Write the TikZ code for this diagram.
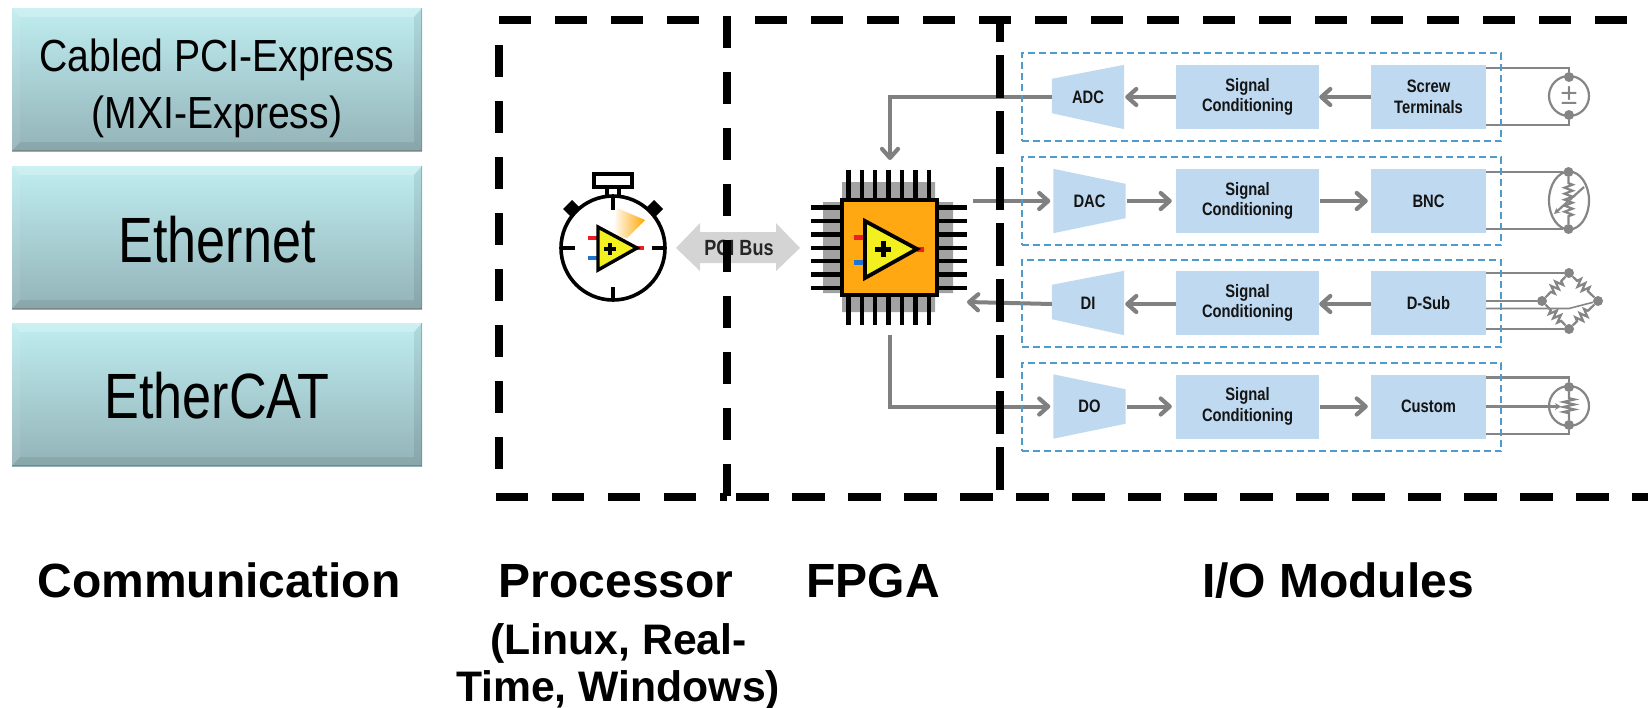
\documentclass[tikz,border=0pt]{standalone}
\usepackage{fontspec}
\setmainfont{Liberation Sans}
\newfontfamily\panelA[FakeStretch=0.87]{Liberation Sans}
\newfontfamily\panelB[FakeStretch=0.815]{Liberation Sans}
\newfontfamily\narrowf[FakeStretch=0.82]{Liberation Sans}
\usetikzlibrary{arrows.meta,backgrounds,decorations.pathmorphing,shapes.geometric}
\definecolor{cg}{HTML}{808080}
\definecolor{wg}{HTML}{858585}
\definecolor{blockblue}{HTML}{BFDAF0}
\definecolor{dashblue}{HTML}{4F9BCB}
\definecolor{chiporange}{HTML}{FFA812}
\definecolor{opyellow}{HTML}{F2F01E}
\definecolor{pinred}{HTML}{EE1C25}
\definecolor{pinblue}{HTML}{1F74D0}
\definecolor{padgray}{HTML}{A2A2A2}
\definecolor{pcigray}{HTML}{D4D4D4}
\definecolor{paneltop}{HTML}{BFEDF0}
\definecolor{panelbot}{HTML}{93B3B8}
\tikzset{
  blk/.style={fill=blockblue,minimum width=143pt,minimum height=64pt,inner sep=0pt,align=center,text=black!92,font=\narrowf\bfseries\fontsize{18}{20.5}\selectfont},
  blks/.style={blk,minimum width=115pt},
  tz/.style={minimum width=72pt,minimum height=64pt,inner sep=0pt,text=black!92,font=\narrowf\bfseries\fontsize{18}{20.5}\selectfont},
  grp/.style={draw=dashblue,line width=2pt,dash pattern=on 7pt off 4pt,minimum width=479.5pt,inner sep=0pt},
  conn/.style={draw=cg,line width=4pt},
  tip/.style={-{Straight Barb[length=9pt,width=16pt,line width=4.2pt,round]}},
  wire/.style={draw=wg,line width=2.2pt},
  dotn/.style={circle,fill=wg,minimum size=10pt,inner sep=0pt},
  frame/.style={draw=black,line width=8pt},
  lbl/.style={font=\bfseries\fontsize{48}{50}\selectfont,anchor=base},
  lbls/.style={font=\bfseries\fontsize{42.7}{46}\selectfont,anchor=base},
  zz/.style={wire,decorate,decoration={zigzag,segment length=6pt,amplitude=4pt,pre length=6pt,post length=6pt}},
}
\newcommand{\panelshape}[1]{%
 \begin{scope}[shift={(12,#1)}]
  \shade[top color=paneltop,bottom color=panelbot] (0,0) rectangle (410,143);
  \fill[white,opacity=.22] (0,0) -- (410,0) -- (402,9) -- (8,9) -- cycle;
  \fill[white,opacity=.08] (0,0) -- (8,9) -- (8,134) -- (0,143) -- cycle;
  \fill[black,opacity=.08] (410,0) -- (402,9) -- (402,134) -- (410,143) -- cycle;
  \fill[black,opacity=.07] (0,143) -- (8,134) -- (402,134) -- (410,143) -- cycle;
  \draw[black!55,opacity=.6,line width=1.4pt] (0,142.5) -- (410,142.5);
  \draw[black!55,opacity=.4,line width=1.2pt] (409.5,0) -- (409.5,143);
 \end{scope}}
\begin{document}
\begin{tikzpicture}[x=1pt,y=-1pt]
\useasboundingbox (0,0) rectangle (1648,707);
% communication panels
\panelshape{8}
\panelshape{166}
\panelshape{323}
\node[align=center,font=\panelA\fontsize{45}{57}\selectfont,inner sep=0pt] (pcie) at (217,88) {Cabled PCI-Express\\(MXI-Express)};
\node[anchor=base,font=\panelB\fontsize{64}{66}\selectfont,inner sep=0pt] (eth) at (217,262) {Ethernet};
\node[anchor=base,font=\panelB\fontsize{64}{66}\selectfont,inner sep=0pt] (ecat) at (217,418) {EtherCAT};
% bottom labels
\node[lbl] (lcomm) at (219,597) {Communication};
\node[lbl] (lproc) at (616,597) {Processor};
\node[lbl] (lfpga) at (873,597) {FPGA};
\node[lbl] (lio) at (1338,597) {I/O Modules};
\node[lbls] (lsub1) at (618.5,654) {(Linux, Real-};
\node[lbls] (lsub2) at (618,701) {Time, Windows)};
% stopwatch
\fill[black] (572,200) -- (581,209) -- (572,218) -- (563,209) -- cycle;
\fill[black] (654,200) -- (663,209) -- (654,218) -- (645,209) -- cycle;
\draw[black,line width=3.4pt] (607,197) -- (607,187) (619,197) -- (619,187);
\draw[black,line width=3.6pt] (594,174) rectangle (632,187);
\node[circle,draw=black,fill=white,line width=3.6pt,minimum size=104pt,inner sep=0pt] (watch) at (613,248) {};
\draw[black,line width=3.2pt] (613,197) -- (613,210) (613,287) -- (613,300) (561,248) -- (575,248) (652,248) -- (665,248);
\shade[left color=white,right color=orange!70!yellow] (617,208) -- (645,220) -- (627,238) to[bend left=15] (613,233) -- cycle;
\fill[pinred] (588,236) rectangle (598,240);
\fill[pinblue] (588,256) rectangle (598,260);
\fill[pinred] (637,246) rectangle (644,250);
\draw[black,fill=opyellow,line width=3.4pt,line join=miter] (598,227) -- (598,270) -- (637,248) -- cycle;
\draw[black,line width=4pt] (604,249) -- (616,249) (610,243) -- (610,255);
% pci arrow
\fill[pcigray] (676,248) -- (700,223) -- (700,232) -- (776,232) -- (776,223) -- (800,248) -- (776,271) -- (776,263) -- (700,263) -- (700,271) -- cycle;
\node[inner sep=0pt,text=black!85,font=\narrowf\bfseries\fontsize{22}{24}\selectfont] (pci) at (739,248) {PCI Bus};
% fpga chip
\fill[padgray] (842,182) rectangle (935,198) (842,297) rectangle (935,312) (823,202) rectangle (840,293) (938,202) rectangle (953,293);
\foreach \p in {848.3,861.7,875,888.5,902,915.3,928.7}{
  \draw[black,line width=4.4pt] (\p,170) -- (\p,325);
}
\foreach \p in {207.3,220.7,234.3,247.7,261,274.5,288}{
  \draw[black,line width=4.4pt] (811,\p) -- (967,\p);
}
\node[draw=black,fill=chiporange,line width=4pt,minimum size=95pt,inner sep=0pt] (chip) at (889,247.5) {};
\fill[pinred] (854,235) rectangle (865,239.5);
\fill[pinblue] (854,260) rectangle (865,264.5);
\fill[pinred] (917,247) rectangle (924,251.5);
\draw[black,fill=opyellow,line width=3.8pt,line join=miter] (865,221) -- (865,278) -- (917,249) -- cycle;
\draw[black,line width=5pt] (875,249) -- (891,249) (883,241) -- (883,257);
% row 1
\node[tz] (adc) at (1088,97) {ADC};
\node[blk] (sig1) at (1247.5,97) {Signal\\Conditioning};
\node[blks] (scr) at (1428.5,97) {Screw\\Terminals};
% row 2
\node[tz] (dac) at (1089.5,201) {DAC};
\node[blk] (sig2) at (1247.5,201) {Signal\\Conditioning};
\node[blks] (bnc) at (1428.5,201) {BNC};
% row 3
\node[tz] (di) at (1088,303) {DI};
\node[blk] (sig3) at (1247.5,303) {Signal\\Conditioning};
\node[blks] (dsub) at (1428.5,303) {D-Sub};
% row 4
\node[tz] (do) at (1089.5,406.5) {DO};
\node[blk] (sig4) at (1247.5,406.5) {Signal\\Conditioning};
\node[blks] (cust) at (1428.5,406.5) {Custom};
\begin{pgfonlayer}{background}
 \fill[blockblue] (adc.north east) -- (adc.south east) -- ([yshift=16pt]adc.south west) -- ([yshift=-14pt]adc.north west) -- cycle;
 \fill[blockblue] (di.north east) -- (di.south east) -- ([yshift=16pt]di.south west) -- ([yshift=-14pt]di.north west) -- cycle;
 \fill[blockblue] (dac.north west) -- (dac.south west) -- ([yshift=15pt]dac.south east) -- ([yshift=-15pt]dac.north east) -- cycle;
 \fill[blockblue] (do.north west) -- (do.south west) -- ([yshift=15pt]do.south east) -- ([yshift=-15pt]do.north east) -- cycle;
\end{pgfonlayer}
% connectors
\coordinate (cin) at (890,160);
\coordinate (cdac) at (973,201);
\coordinate (cdi) at (967,302);
\coordinate (cout) at (890,335);
\draw[conn,tip] (adc.west) -| (cin);
\draw[conn,tip,shorten >=3pt] (cdac) -- (dac.west);
\draw[conn,tip] ([yshift=-1pt]di.west) -- (cdi);
\draw[conn,tip,shorten >=3pt] (cout) |- (do.west);
\draw[conn,tip] (scr.west) -- (sig1.east);
\draw[conn,tip] (sig1.west) -- ([xshift=1pt]adc.east);
\draw[conn,tip,shorten <=1pt,shorten >=4pt] (dac.east) -- (sig2.west);
\draw[conn,tip,shorten <=1pt,shorten >=3pt] (sig2.east) -- (bnc.west);
\draw[conn,tip] ([yshift=-1pt]dsub.west) -- ([yshift=-1pt]sig3.east);
\draw[conn,tip] ([yshift=-1pt]sig3.west) -- ([xshift=1pt,yshift=-1pt]di.east);
\draw[conn,tip,shorten <=1pt,shorten >=4pt] (do.east) -- (sig4.west);
\draw[conn,tip,shorten <=1pt,shorten >=3pt] (sig4.east) -- (cust.west);
% sensor 1
\node[circle,draw=wg,line width=2.2pt,minimum size=40pt,inner sep=0pt] (s1) at (1569,96) {};
\node[dotn] (s1t) at (1569,77) {};
\node[dotn] (s1b) at (1569,115) {};
\draw[wire] ([yshift=29pt]scr.east) -| (s1t);
\draw[wire] ([yshift=-28pt]scr.east) -| (s1b);
\node[inner sep=0pt,text=wg,font=\fontsize{30}{30}\selectfont] (s1p) at (1569,96) {±};
% sensor 2
\node[ellipse,draw=wg,line width=2.2pt,minimum width=40pt,minimum height=58pt,inner sep=0pt] (s2) at (1569,200.5) {};
\node[dotn] (s2t) at (1568.5,172) {};
\node[dotn] (s2b) at (1568.5,229) {};
\draw[wire] ([yshift=29pt]bnc.east) -- (s2t);
\draw[wire] ([yshift=-28pt]bnc.east) -- (s2b);
\draw[zz] (s2t) -- (s2b);
\coordinate (s2a) at (1584,187);
\coordinate (s2c) at (1554,214);
\draw[wire,-{Stealth[length=6pt,width=6pt]}] (s2a) -- (s2c);
% sensor 3
\node[dotn] (b3t) at (1569,273) {};
\node[dotn] (b3l) at (1542,301) {};
\node[dotn] (b3r) at (1598,301) {};
\node[dotn] (b3b) at (1569,329) {};
\draw[wire] ([yshift=30pt]dsub.east) -- (b3t);
\draw[wire] ([yshift=2pt]dsub.east) -- (b3l);
\draw[wire] ([yshift=-26pt]dsub.east) -- (b3b);
\coordinate (b3m) at (1569,308.5);
\draw[wire,line width=1.6pt] (dsub.east |- b3m) -- (b3m) -- (b3r);
\draw[zz] (b3t) -- (b3l);
\draw[zz] (b3t) -- (b3r);
\draw[zz] (b3b) -- (b3l);
\draw[zz] (b3b) -- (b3r);
% sensor 4
\node[circle,draw=wg,line width=2.2pt,minimum size=40pt,inner sep=0pt] (s4) at (1569,406) {};
\node[dotn] (s4t) at (1569,387) {};
\node[dotn] (s4b) at (1569,425) {};
\draw[wire] ([yshift=29pt]cust.east) -| (s4t);
\draw[wire] ([yshift=-27.5pt]cust.east) -| (s4b);
\coordinate (s4a) at (1561,406.5);
\draw[wire,-{Stealth[length=6pt,width=7pt]}] (cust.east) -- (s4a);
\draw[wire,decorate,decoration={zigzag,segment length=5pt,amplitude=5.5pt,pre length=6pt,post length=6pt}] (s4t) -- (s4b);
% module groups
\node[grp,minimum height=88pt] (g1) at (1261.25,97) {};
\node[grp,minimum height=88pt] (g2) at (1261.25,201) {};
\node[grp,minimum height=87pt] (g3) at (1261.25,303.5) {};
\node[grp,minimum height=88pt] (g4) at (1261.25,407) {};
% dashed frame
\coordinate (ft1) at (499,20); \coordinate (ft2) at (699,20);
\coordinate (ft3) at (755,20); \coordinate (ft4) at (1648,20);
\coordinate (fb1) at (496,497); \coordinate (fb2) at (727,497);
\coordinate (fb3) at (736,497); \coordinate (fb4) at (1648,497);
\coordinate (fl1) at (499,45); \coordinate (fl2) at (499,470);
\coordinate (fm1) at (727,16); \coordinate (fm2) at (727,496);
\coordinate (fr0) at (1000,16); \coordinate (fr1) at (1000,42);
\coordinate (fr2) at (1000,55); \coordinate (fr3) at (1000,490);
\draw[frame,dash pattern=on 32pt off 24pt] (ft1) -- (ft2);
\draw[frame,dash pattern=on 32pt off 24pt] (ft3) -- (ft4);
\draw[frame,dash pattern=on 32pt off 24pt] (fb1) -- (fb2);
\draw[frame,dash pattern=on 33pt off 23pt] (fb3) -- (fb4);
\draw[frame,dash pattern=on 32pt off 24pt] (fl1) -- (fl2);
\draw[frame,dash pattern=on 32pt off 24pt] (fm1) -- (fm2);
\draw[frame] (fr0) -- (fr1);
\draw[frame,dash pattern=on 43pt off 13pt] (fr2) -- (fr3);
\end{tikzpicture}
\end{document}
